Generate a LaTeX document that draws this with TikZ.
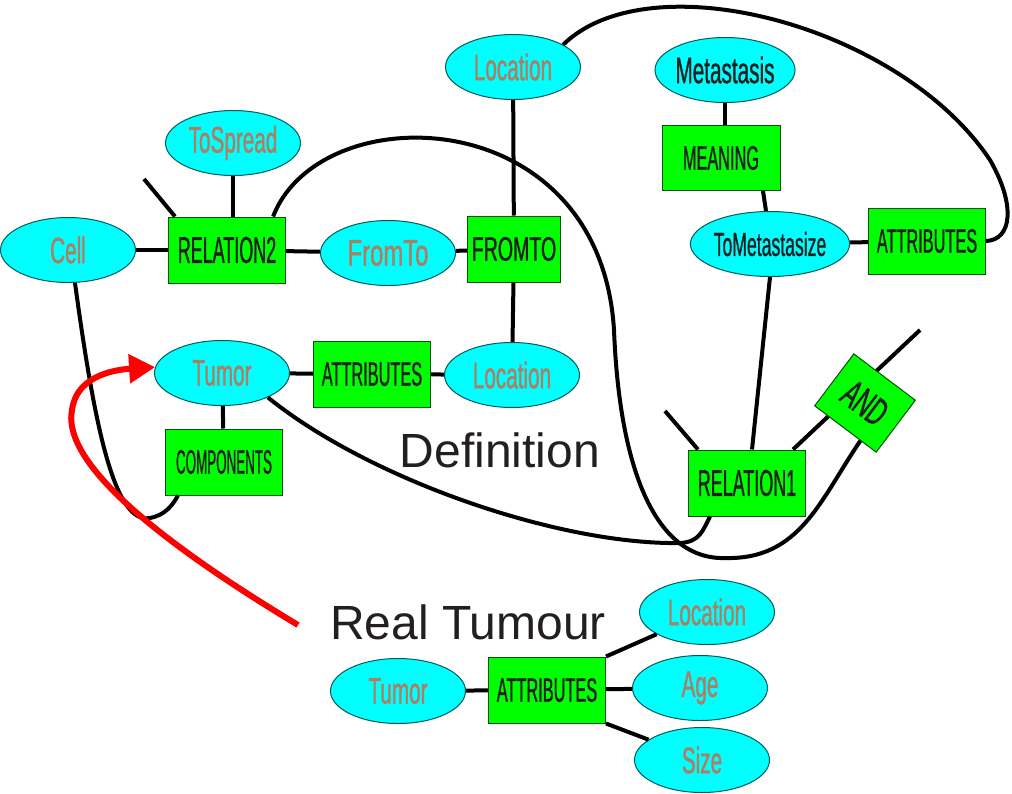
\documentclass[tikz,border=0pt]{standalone}
\usepackage{graphicx}
\usepackage{fontspec}
\usetikzlibrary{shapes.geometric,arrows.meta}
\newfontfamily\ellfont[FakeStretch=0.56,FakeBold=0.8]{Liberation Sans}
\newfontfamily\relfont[FakeStretch=0.48,FakeBold=0.8]{Liberation Sans}
\newfontfamily\capfont{Liberation Sans}
\definecolor{entfill}{RGB}{0,255,255}
\definecolor{entline}{RGB}{0,90,90}
\definecolor{relfill}{RGB}{0,255,0}
\definecolor{relline}{RGB}{0,80,0}
\definecolor{enttext}{RGB}{175,125,95}
\definecolor{darktext}{RGB}{35,31,32}
\tikzset{
  ent/.style={ellipse, draw=entline, fill=entfill, line width=1pt,
    minimum width=135pt, minimum height=65pt, inner sep=0pt,
    text=enttext, font=\ellfont\fontsize{37}{40}\selectfont},
  rel/.style={rectangle, draw=relline, fill=relfill, line width=1pt,
    minimum width=117pt, minimum height=66pt, inner sep=0pt,
    text=darktext, font=\relfont\fontsize{34}{38}\selectfont},
  conn/.style={line width=4pt, black},
  pointer/.style={line width=6pt, red, -{Triangle[length=26pt,width=28pt]}},
  caption/.style={text=darktext, font=\capfont\fontsize{48}{52}\selectfont}
}
\begin{document}
\begin{tikzpicture}[x=1pt, y=-1pt]
    \useasboundingbox (0,0) rectangle (1012,793);

    % Definition graph
    \node[ent] (loc1) at (513,67) {Location};
    \node[ent, text=darktext] (meta) at (725,70) {Metastasis};
    \node[ent] (spread) at (233,143) {ToSpread};
    \node[ent] (cell) at (68,250) {Cell};
    \node[rel] (rel2) at (227,250) {\scalebox{1.1}[1.1]{RELATION2}};
    \node[ent] (fromto) at (388,253) {\scalebox{1.15}[1]{FromTo}};
    \node[rel, minimum width=93pt] (fromtobox) at (514,249) {\scalebox{1.2}[1]{FROMTO}};
    \node[rel, minimum width=118pt, minimum height=65pt] (meaning) at (721,158) {MEANING};
    \node[ent, text=darktext] (tometa) at (770,244) {\scalebox{0.85}[0.9]{ToMetastasize}};
    \node[rel] (att1) at (927,241) {ATTRIBUTES};
    \node[ent] (tumor) at (222,373) {Tumor};
    \node[rel] (att2) at (372,374) {ATTRIBUTES};
    \node[ent] (loc2) at (512,375) {Location};
    \node[rel] (comp) at (224,462) {\scalebox{0.82}[1]{COMPONENTS}};
    \node[caption] (defn) at (500,450) {Definition};
    \node[rel] (rel1) at (747,483) {\scalebox{1.1}[1.1]{RELATION1}};

    % Real tumour
    \node[caption] (real) at (468,622) {Real Tumour};
    \node[ent] (tumor2) at (398,691) {Tumor};
    \node[rel] (att3) at (547,690) {ATTRIBUTES};
    \node[ent] (loc3) at (707,612) {Location};
    \node[ent] (age) at (700,688) {Age};
    \node[ent] (size) at (702,760) {Size};

    % Free ends
    \coordinate (stub2) at (144,179);
    \coordinate (stub1) at (665,411);
    \coordinate (andend) at (920,330);
    \coordinate (redstart) at (298,625);

    % Straight links
    \draw[conn] (stub2) -- ([xshift=7pt]rel2.north west);
    \draw[conn] (spread.south) -- (spread.south |- rel2.north);
    \draw[conn] (cell) -- (rel2);
    \draw[conn] (rel2) -- (fromto);
    \draw[conn] (fromto) -- (fromtobox);
    \draw[conn] (loc1) -- (fromtobox);
    \draw[conn] (fromtobox) -- (loc2);
    \draw[conn] (tumor) -- (att2);
    \draw[conn] (att2) -- (loc2);
    \draw[conn] (tumor) -- (comp);
    \draw[conn] (meta.south) -- (meta.south |- meaning.north);
    \draw[conn] ([xshift=42pt]meaning.south) -- ([xshift=-4pt]tometa.north);
    \draw[conn] (tometa) -- (att1);
    \draw[conn] (tometa.south) -- ([xshift=5pt]rel1.north);
    \draw[conn] (stub1) -- ([xshift=10pt]rel1.north west);
    \draw[conn] ([xshift=-13pt]rel1.north east) -- (andend);
    \node[rel, minimum width=77pt, minimum height=65pt, rotate=-37] (and) at (865,403) {\scalebox{1.35}[1.15]{AND}};

    \draw[conn] (tumor2) -- (att3);
    \draw[conn] (att3.north east) -- (loc3);
    \draw[conn] (att3) -- (age);
    \draw[conn] (att3.south east) -- (size);

    % Curved links
    \draw[conn] (rel2.36) .. controls (320,95) and (600,100) .. (614,330)
        .. controls (620,480) and (660,560) .. (725,558)
        .. controls (800,560) and (820,500) .. (and.-60);
    \draw[conn] (tumor.-28) .. controls (370,480) and (560,545) .. (680,543)
        .. controls (700,542) and (703,530) .. ([xshift=-37pt]rel1.south);
    \draw[conn] (cell.-78) .. controls (95,430) and (115,525) .. (150,518)
        .. controls (165,515) and (172,506) .. ([xshift=-46pt]comp.south);
    \draw[conn] (loc1.24) .. controls (650,-40) and (900,25) .. (990,160)
        .. controls (1016,205) and (1012,240) .. (att1.east);

    % Pointer to the real tumour
    \draw[pointer] (redstart) .. controls (190,560) and (60,470) .. (72,410)
        .. controls (76,378) and (110,370) .. (tumor.175);
\end{tikzpicture}
\end{document}
